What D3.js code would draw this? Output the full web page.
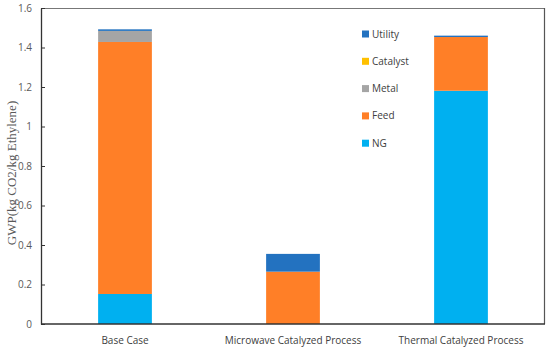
<!DOCTYPE html>
<html>
<head>
<meta charset="utf-8">
<script src="https://d3js.org/d3.v7.min.js"></script>
<style>
body { margin: 0; background: #fff; }
svg { display: block; }
</style>
</head>
<body>
<svg></svg>
<script>

var width = 550;
var height = 350;
var margin = { top: 8, right: 5, bottom: 26, left: 41 };

// Chart values
var categories = ["Base Case", "Microwave Catalyzed Process", "Thermal Catalyzed Process"];
var series = ["NG", "Feed", "Metal", "Catalyst", "Utility"];
var ngValues = [0.152, 0, 1.181];
var feedValues = [1.276, 0.265, 0.272];
var metalValues = [0.056, 0, 0];
var catalystValues = [0, 0, 0];
var utilityValues = [0.008, 0.09, 0.007];
var yTicks = [0, 0.2, 0.4, 0.6, 0.8, 1, 1.2, 1.4, 1.6];
var colors = ["#00b0f0", "#ff7f27", "#a5a5a5", "#ffc000", "#2372c0"];

var rows = categories.map(function (c, i) {
	return { cat: c, NG: ngValues[i], Feed: feedValues[i], Metal: metalValues[i],
		Catalyst: catalystValues[i], Utility: utilityValues[i] };
});

var svg = d3.select("svg").attr("width", width).attr("height", height);

var x = d3.scaleBand().domain(categories)
	.range([margin.left, width - margin.right]).paddingInner(0.68).paddingOuter(0.34);
var y = d3.scaleLinear().domain([0, 1.6]).range([height - margin.bottom, margin.top]);
var color = d3.scaleOrdinal().domain(series).range(colors);

var stacked = d3.stack().keys(series)(rows);

// stacked bars
svg.append("g").selectAll("g").data(stacked).enter().append("g")
	.attr("fill", function (d) { return color(d.key); })
	.selectAll("rect").data(function (d) { return d; }).enter().append("rect")
	.attr("x", function (d) { return x(d.data.cat); })
	.attr("width", x.bandwidth())
	.attr("y", function (d) { return y(d[1]); })
	.attr("height", function (d) { return Math.max(0, y(d[0]) - y(d[1])); });

// frame: top and right lighter
svg.append("line").attr("x1", margin.left).attr("x2", width - margin.right)
	.attr("y1", margin.top + 0.5).attr("y2", margin.top + 0.5)
	.attr("stroke", "#777").attr("stroke-width", 1);
svg.append("line").attr("x1", width - margin.right - 0.5).attr("x2", width - margin.right - 0.5)
	.attr("y1", margin.top).attr("y2", height - margin.bottom)
	.attr("stroke", "#555").attr("stroke-width", 1.2);

// y axis, ticks pointing inward
var yAxis = svg.append("g").attr("transform", "translate(" + margin.left + ",0)")
	.call(d3.axisLeft(y).tickValues(yTicks).tickSizeInner(-4).tickSizeOuter(0).tickPadding(9)
		.tickFormat(function (d) { return d3.format("")(d); }));
yAxis.select(".domain").attr("stroke", "#333").attr("stroke-width", 1.3);
yAxis.selectAll(".tick line").attr("stroke", "#333");
yAxis.selectAll("text").attr("fill", "#595959")
	.style("font-family", "'Open Sans', sans-serif").style("font-size", "10px");

// x axis
var xAxis = svg.append("g").attr("transform", "translate(0," + (height - margin.bottom) + ")")
	.call(d3.axisBottom(x).tickSize(0).tickPadding(13));
xAxis.select(".domain").attr("stroke", "#333").attr("stroke-width", 1.3)
	.attr("d", "M" + margin.left + ",0H" + (width - margin.right));
xAxis.selectAll("text").attr("fill", "#404040")
	.style("font-family", "'Open Sans', sans-serif").style("font-size", "10px");

// y axis title
svg.append("text")
	.attr("transform", "translate(11,173) rotate(-90)")
	.attr("text-anchor", "middle")
	.attr("dy", "0.35em")
	.attr("fill", "#595959")
	.style("font-family", "'Liberation Serif', serif").style("font-size", "13px")
	.text("GWP(kg CO2/kg Ethylene)");

// legend, reversed order
var legend = svg.append("g").selectAll("g").data(series.slice().reverse()).enter().append("g")
	.attr("transform", function (d, i) { return "translate(362," + (34 + i * 27.3) + ")"; });
legend.append("rect").attr("x", 0).attr("y", -3.5).attr("width", 7).attr("height", 7)
	.attr("fill", function (d) { return color(d); });
legend.append("text").attr("x", 10).attr("y", 0).attr("dy", "0.35em")
	.attr("fill", "#404040")
	.style("font-family", "'Open Sans', sans-serif").style("font-size", "10px")
	.text(function (d) { return d; });

</script>
</body>
</html>
